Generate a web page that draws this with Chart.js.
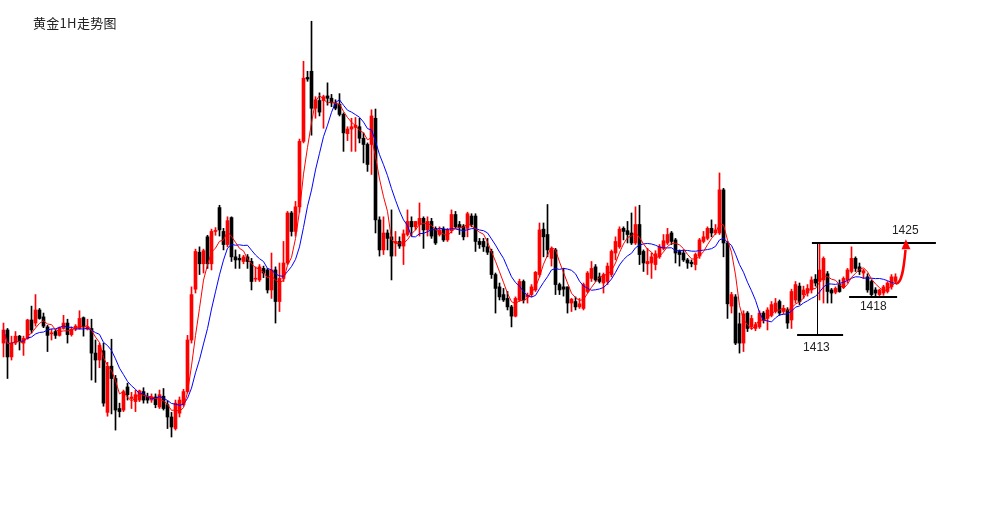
<!DOCTYPE html>
<html>
<head>
<meta charset="utf-8">
<title>黄金1H走势图</title>
<script src="https://cdn.jsdelivr.net/npm/chart.js@4/dist/chart.umd.min.js"></script>
<style>
  html, body { margin: 0; padding: 0; background: #fff; }
  #wrap { width: 1005px; height: 506px; }
</style>
</head>
<body>
<div id="wrap"><canvas id="goldChart" width="1005" height="506"></canvas></div>
<script>
// 黄金 1小时K线 (开 高 低 收)
const opens = [
  1412.0,1413.7,1410.2,1412.0,1412.9,1412.0,1412.6,1415.0,1414.6,1416.3,
  1415.4,1414.1,1413.2,1413.5,1413.0,1413.9,1414.6,1413.1,1413.8,1413.9,
  1415.3,1413.8,1413.9,1410.7,1409.8,1411.0,1403.0,1409.0,1407.4,1403.5,
  1403.3,1406.3,1404.8,1404.4,1404.6,1405.7,1405.1,1404.6,1405.0,1403.7,
  1405.1,1404.0,1402.4,1400.9,1402.9,1404.0,1405.7,1412.4,1419.0,1423.8,
  1422.3,1425.8,1422.3,1426.5,1429.6,1426.5,1424.8,1428.3,1423.2,1423.0,
  1422.6,1423.2,1422.6,1420.3,1420.2,1421.7,1421.5,1418.9,1421.5,1417.4,
  1420.4,1422.4,1428.9,1426.5,1429.7,1438.2,1446.5,1447.3,1442.5,1443.5,
  1443.5,1444.1,1443.8,1443.2,1443.0,1441.7,1439.2,1439.8,1440.0,1440.1,
  1438.6,1437.8,1437.8,1441.2,1428.0,1424.1,1426.3,1425.8,1425.0,1425.2,
  1424.6,1426.1,1427.8,1427.1,1427.4,1428.2,1426.7,1427.8,1426.9,1426.1,
  1426.8,1425.4,1426.6,1428.7,1427.4,1427.2,1426.9,1428.5,1428.5,1425.2,
  1425.2,1424.5,1423.9,1420.9,1419.3,1418.3,1417.8,1416.7,1415.5,1417.6,
  1420.0,1418.0,1418.3,1418.9,1420.9,1426.8,1426.1,1423.0,1424.1,1419.6,
  1419.3,1419.3,1417.2,1417.4,1416.7,1416.5,1418.7,1420.4,1421.9,1420.6,
  1419.8,1420.0,1420.9,1423.7,1424.5,1426.9,1426.6,1426.3,1425.0,1427.4,
  1423.9,1422.3,1422.4,1422.2,1423.2,1424.3,1425.0,1426.3,1425.4,1423.9,
  1423.7,1422.8,1422.5,1422.2,1423.3,1425.2,1425.6,1426.9,1426.3,1426.3,
  1431.9,1425.0,1416.8,1418.0,1414.5,1412.0,1415.9,1414.1,1413.9,1414.1,
  1415.9,1415.2,1415.6,1416.1,1417.4,1416.1,1416.3,1415.0,1417.6,1419.4,
  1418.3,1418.5,1418.9,1420.3,1420.0,1420.2,1421.0,1418.9,1418.6,1419.6,
  1419.3,1420.2,1421.3,1423.0,1421.9,1421.1,1420.6,1420.0,1418.9,1418.3,
  1418.5,1418.7,1419.3,1420.0
];
const highs = [
  1414.6,1413.9,1412.9,1413.5,1413.0,1412.9,1415.1,1416.8,1418.3,1416.5,
  1415.9,1414.3,1413.8,1413.8,1414.1,1415.6,1415.1,1414.1,1414.4,1416.2,
  1415.4,1415.1,1415.1,1412.4,1412.0,1412.0,1409.5,1412.5,1407.8,1404.2,
  1405.9,1406.8,1405.6,1405.9,1405.9,1406.2,1405.5,1405.4,1405.4,1405.9,
  1406.1,1404.5,1403.0,1404.6,1405.0,1406.0,1413.0,1419.3,1424.2,1424.5,
  1424.2,1426.0,1426.8,1427.0,1429.9,1426.9,1428.4,1428.4,1424.1,1423.5,
  1423.4,1423.5,1423.0,1421.9,1422.2,1422.0,1421.7,1423.7,1421.9,1422.4,
  1425.2,1429.1,1429.1,1430.4,1438.5,1448.6,1447.3,1453.8,1444.0,1444.5,
  1444.2,1445.8,1444.3,1443.6,1444.4,1441.9,1440.1,1441.2,1441.3,1441.2,
  1439.3,1438.0,1442.3,1442.4,1428.4,1428.4,1426.7,1429.3,1426.5,1425.8,
  1426.7,1429.3,1428.4,1427.8,1430.2,1428.4,1428.4,1428.2,1427.1,1427.1,
  1427.1,1426.9,1429.3,1429.1,1427.8,1427.4,1429.0,1428.8,1428.8,1425.6,
  1425.6,1425.6,1424.2,1421.1,1419.8,1419.1,1418.7,1416.9,1418.0,1420.3,
  1420.2,1418.5,1419.6,1421.3,1427.6,1427.6,1430.0,1424.5,1424.3,1419.8,
  1421.7,1419.3,1417.8,1418.0,1417.8,1419.8,1421.3,1422.6,1422.2,1421.1,
  1421.1,1422.4,1424.1,1425.8,1427.1,1427.1,1427.8,1428.9,1429.7,1429.9,
  1424.1,1424.3,1423.7,1424.0,1424.8,1426.1,1426.9,1426.5,1425.6,1424.1,
  1424.1,1423.0,1422.8,1423.7,1425.6,1426.5,1427.1,1428.0,1427.4,1434.1,
  1432.1,1425.2,1418.6,1418.3,1415.9,1416.2,1416.1,1415.6,1414.7,1416.2,
  1416.1,1416.6,1417.4,1417.8,1417.6,1416.9,1416.6,1419.0,1420.0,1419.8,
  1419.4,1419.6,1420.6,1420.9,1425.0,1423.2,1421.3,1419.1,1419.3,1420.2,
  1420.6,1421.7,1424.5,1423.2,1422.4,1421.6,1421.0,1420.2,1419.2,1419.0,
  1419.5,1420.0,1420.9,1421.0
];
const lows = [
  1410.2,1407.4,1409.8,1411.8,1411.1,1410.4,1412.5,1413.3,1414.2,1415.1,
  1414.0,1410.9,1412.4,1412.6,1412.9,1413.8,1412.0,1412.9,1413.6,1413.8,
  1412.9,1413.7,1407.2,1406.9,1408.8,1403.8,1402.5,1402.8,1400.7,1402.4,
  1403.1,1404.6,1403.5,1403.1,1404.4,1404.2,1404.2,1404.3,1403.6,1403.5,
  1403.3,1400.9,1399.8,1400.7,1402.4,1403.8,1405.5,1412.0,1418.5,1420.9,
  1421.1,1421.7,1421.5,1426.0,1425.9,1424.1,1424.5,1422.6,1421.7,1421.7,
  1422.3,1421.7,1418.9,1420.0,1420.0,1420.5,1418.5,1417.8,1414.6,1416.1,
  1420.0,1422.2,1425.9,1425.9,1429.0,1438.0,1446.0,1439.0,1441.2,1441.5,
  1439.9,1442.9,1442.7,1442.3,1441.5,1436.9,1438.3,1436.9,1436.9,1438.0,
  1435.4,1434.3,1433.9,1426.3,1423.3,1423.5,1424.1,1420.2,1423.3,1424.3,
  1422.2,1425.9,1425.9,1426.7,1425.9,1424.3,1425.9,1425.6,1424.8,1425.9,
  1425.2,1425.2,1426.3,1426.9,1426.1,1425.4,1425.8,1427.1,1423.9,1424.3,
  1423.9,1423.5,1420.4,1415.9,1417.6,1417.4,1416.3,1414.1,1415.4,1417.4,
  1417.2,1417.2,1418.0,1418.7,1420.6,1423.2,1423.2,1422.0,1418.3,1418.3,
  1418.1,1415.9,1416.1,1416.3,1416.5,1416.3,1418.5,1420.0,1420.0,1419.8,
  1418.5,1419.6,1420.6,1422.8,1424.3,1425.4,1425.0,1424.8,1424.8,1422.2,
  1421.3,1420.9,1420.4,1421.5,1423.0,1424.1,1424.8,1424.8,1422.4,1422.0,
  1422.6,1421.7,1421.9,1421.5,1423.0,1425.0,1425.4,1425.8,1426.1,1426.1,
  1423.2,1415.2,1415.9,1411.8,1410.7,1410.9,1413.5,1413.8,1413.6,1413.9,
  1414.6,1413.7,1415.4,1415.9,1415.6,1415.8,1413.9,1413.9,1417.2,1417.0,
  1417.8,1418.1,1418.5,1419.4,1417.6,1417.2,1417.2,1417.2,1418.4,1418.6,
  1419.1,1419.8,1421.1,1421.3,1420.9,1420.4,1418.6,1418.0,1418.1,1418.0,
  1418.2,1418.5,1419.0,1419.7
];
const closes = [
  1413.7,1410.2,1412.0,1412.9,1412.2,1412.6,1415.0,1413.7,1416.3,1415.2,
  1414.2,1413.0,1413.3,1413.0,1414.0,1414.6,1413.1,1413.8,1414.2,1415.2,
  1414.1,1414.1,1410.7,1409.8,1411.7,1404.2,1409.0,1407.4,1403.3,1403.1,
  1405.7,1405.3,1405.0,1405.3,1405.8,1404.6,1404.6,1405.0,1404.0,1405.3,
  1403.5,1402.4,1401.1,1404.2,1404.6,1405.7,1412.4,1418.3,1423.9,1422.3,
  1424.0,1422.3,1426.5,1426.6,1426.7,1424.8,1427.9,1423.2,1422.8,1422.8,
  1423.2,1422.6,1420.0,1420.4,1421.9,1421.1,1418.9,1421.5,1417.4,1420.4,
  1422.4,1428.9,1426.5,1429.7,1438.2,1446.4,1446.3,1442.5,1443.6,1442.0,
  1444.0,1443.8,1443.2,1442.5,1441.7,1439.3,1439.8,1440.1,1440.3,1438.6,
  1437.8,1435.2,1441.5,1428.0,1424.1,1426.3,1425.6,1423.3,1425.2,1424.6,
  1426.2,1427.8,1427.1,1427.8,1428.2,1426.7,1427.8,1425.9,1425.0,1426.7,
  1425.4,1426.7,1428.7,1427.1,1427.0,1425.8,1428.8,1427.4,1425.2,1424.8,
  1424.5,1423.8,1420.9,1419.1,1418.0,1417.6,1416.7,1415.5,1417.8,1420.0,
  1417.6,1418.2,1419.3,1421.2,1426.7,1425.8,1424.1,1424.3,1419.6,1418.9,
  1419.0,1417.2,1417.7,1416.7,1417.1,1419.6,1421.1,1421.7,1420.2,1420.0,
  1420.9,1422.0,1423.9,1425.2,1426.8,1426.5,1426.1,1425.0,1427.4,1423.5,
  1422.4,1422.6,1423.2,1423.6,1424.5,1425.3,1426.1,1425.2,1423.7,1423.5,
  1422.8,1422.4,1422.3,1423.5,1425.4,1425.8,1426.9,1426.3,1426.7,1431.9,
  1425.0,1417.1,1418.3,1412.0,1412.0,1415.8,1413.9,1415.2,1414.4,1415.9,
  1415.0,1416.3,1417.0,1417.2,1415.9,1416.5,1414.6,1418.7,1419.6,1417.4,
  1418.9,1419.1,1420.2,1419.8,1421.5,1423.0,1418.7,1418.5,1419.1,1418.7,
  1420.4,1421.5,1423.0,1421.7,1421.3,1421.4,1418.9,1418.3,1418.5,1418.9,
  1419.3,1419.8,1420.6,1420.6
];

// 关键价位
const levels = [1425, 1418, 1413];
const titleText = '黄金1H走势图';

// 均线
function sma(arr, n) {
  return arr.map((v, i) => {
    const s = arr.slice(Math.max(0, i - n + 1), i + 1);
    return s.reduce((a, b) => a + b, 0) / s.length;
  });
}
const ma5 = sma(closes, 5);
const ma10 = sma(closes, 10);

const candleColors = closes.map((c, i) => c >= opens[i] ? '#ff0000' : '#000000');

// 画线位置 (K线序号, 价格)
const marks = {
  lines: [
    { price: levels[0], from: 202.1, to: 233.1, label: '1425', lx: 222.1, dy: -9 },
    { price: levels[1], from: 211.4, to: 223.4, label: '1418', lx: 214.1, dy: 13 },
    { price: levels[2], from: 198.4, to: 209.9, label: '1413', lx: 199.9, dy: 16 }
  ],
  vline: { at: 203.4, from: levels[0], to: levels[2] },
  arrow: {
    start: [223.1, 1419.7], c1: [224.6, 1419.7], c2: [225.1, 1421.8], end: [225.5, 1424.1],
    tip: [225.6, 1425.5], left: [224.5, 1424.2], right: [226.75, 1424.2]
  }
};

const overlay = {
  id: 'overlay',
  afterDatasetsDraw(chart) {
    const ctx = chart.ctx;
    const x = chart.scales.x, y = chart.scales.y;
    const px = p => [x.getPixelForValue(p[0]), y.getPixelForValue(p[1])];
    ctx.save();

    // 标题
    ctx.fillStyle = '#222';
    ctx.font = '13px "Noto Sans CJK SC", sans-serif';
    ctx.letterSpacing = '0.3px';
    ctx.textBaseline = 'alphabetic';
    ctx.fillText(titleText, 33, 28);
    ctx.letterSpacing = '0px';

    // 水平线和价格
    ctx.strokeStyle = '#000';
    ctx.font = '12px "Liberation Sans", Arial, sans-serif';
    marks.lines.forEach(l => {
      const yy = Math.round(y.getPixelForValue(l.price));
      ctx.lineWidth = 2;
      ctx.beginPath();
      ctx.moveTo(x.getPixelForValue(l.from), yy);
      ctx.lineTo(x.getPixelForValue(l.to), yy);
      ctx.stroke();
      ctx.fillText(l.label, x.getPixelForValue(l.lx), yy + l.dy);
    });

    // 竖线
    const vx = Math.round(x.getPixelForValue(marks.vline.at)) + 0.5;
    ctx.lineWidth = 1;
    ctx.beginPath();
    ctx.moveTo(vx, y.getPixelForValue(marks.vline.from));
    ctx.lineTo(vx, y.getPixelForValue(marks.vline.to));
    ctx.stroke();

    // 红色箭头
    const a = marks.arrow;
    const s = px(a.start), c1 = px(a.c1), c2 = px(a.c2), e = px(a.end);
    ctx.strokeStyle = '#ff0000';
    ctx.fillStyle = '#ff0000';
    ctx.lineWidth = 2.5;
    ctx.beginPath();
    ctx.moveTo(s[0], s[1]);
    ctx.bezierCurveTo(c1[0], c1[1], c2[0], c2[1], e[0], e[1]);
    ctx.stroke();
    const t = px(a.tip), le = px(a.left), ri = px(a.right);
    ctx.beginPath();
    ctx.moveTo(t[0], t[1]);
    ctx.lineTo(le[0], le[1]);
    ctx.lineTo(ri[0], ri[1]);
    ctx.closePath();
    ctx.fill();

    ctx.restore();
  }
};

const ctx = document.getElementById('goldChart').getContext('2d');
const goldChart = new Chart(ctx, {
  type: 'bar',
  data: {
    datasets: [
      {
        type: 'line',
        label: 'MA5',
        data: ma5.map((v, i) => ({ x: i, y: v })),
        borderColor: '#ff0000',
        borderWidth: 1,
        pointRadius: 0,
        tension: 0,
        order: 0
      },
      {
        type: 'line',
        label: 'MA10',
        data: ma10.map((v, i) => ({ x: i, y: v })),
        borderColor: '#0000ff',
        borderWidth: 1,
        pointRadius: 0,
        tension: 0,
        order: 0
      },
      {
        label: '实体',
        data: opens.map((o, i) => ({ x: i, y: [Math.min(o, closes[i]), Math.max(o, closes[i])] })),
        backgroundColor: candleColors,
        barThickness: 3,
        minBarLength: 1,
        grouped: false,
        order: 1
      },
      {
        label: '影线',
        data: lows.map((l, i) => ({ x: i, y: [l, highs[i]] })),
        backgroundColor: candleColors,
        barThickness: 1,
        grouped: false,
        order: 2
      }
    ]
  },
  options: {
    responsive: false,
    animation: false,
    layout: { padding: 0 },
    plugins: {
      legend: { display: false },
      tooltip: { enabled: false },
      title: { display: false }
    },
    scales: {
      x: { type: 'linear', min: -0.875, max: 250.375, offset: false, display: false },
      y: { min: 1390.84, max: 1456.56, display: false }
    }
  },
  plugins: [overlay]
});
</script>
</body>
</html>
